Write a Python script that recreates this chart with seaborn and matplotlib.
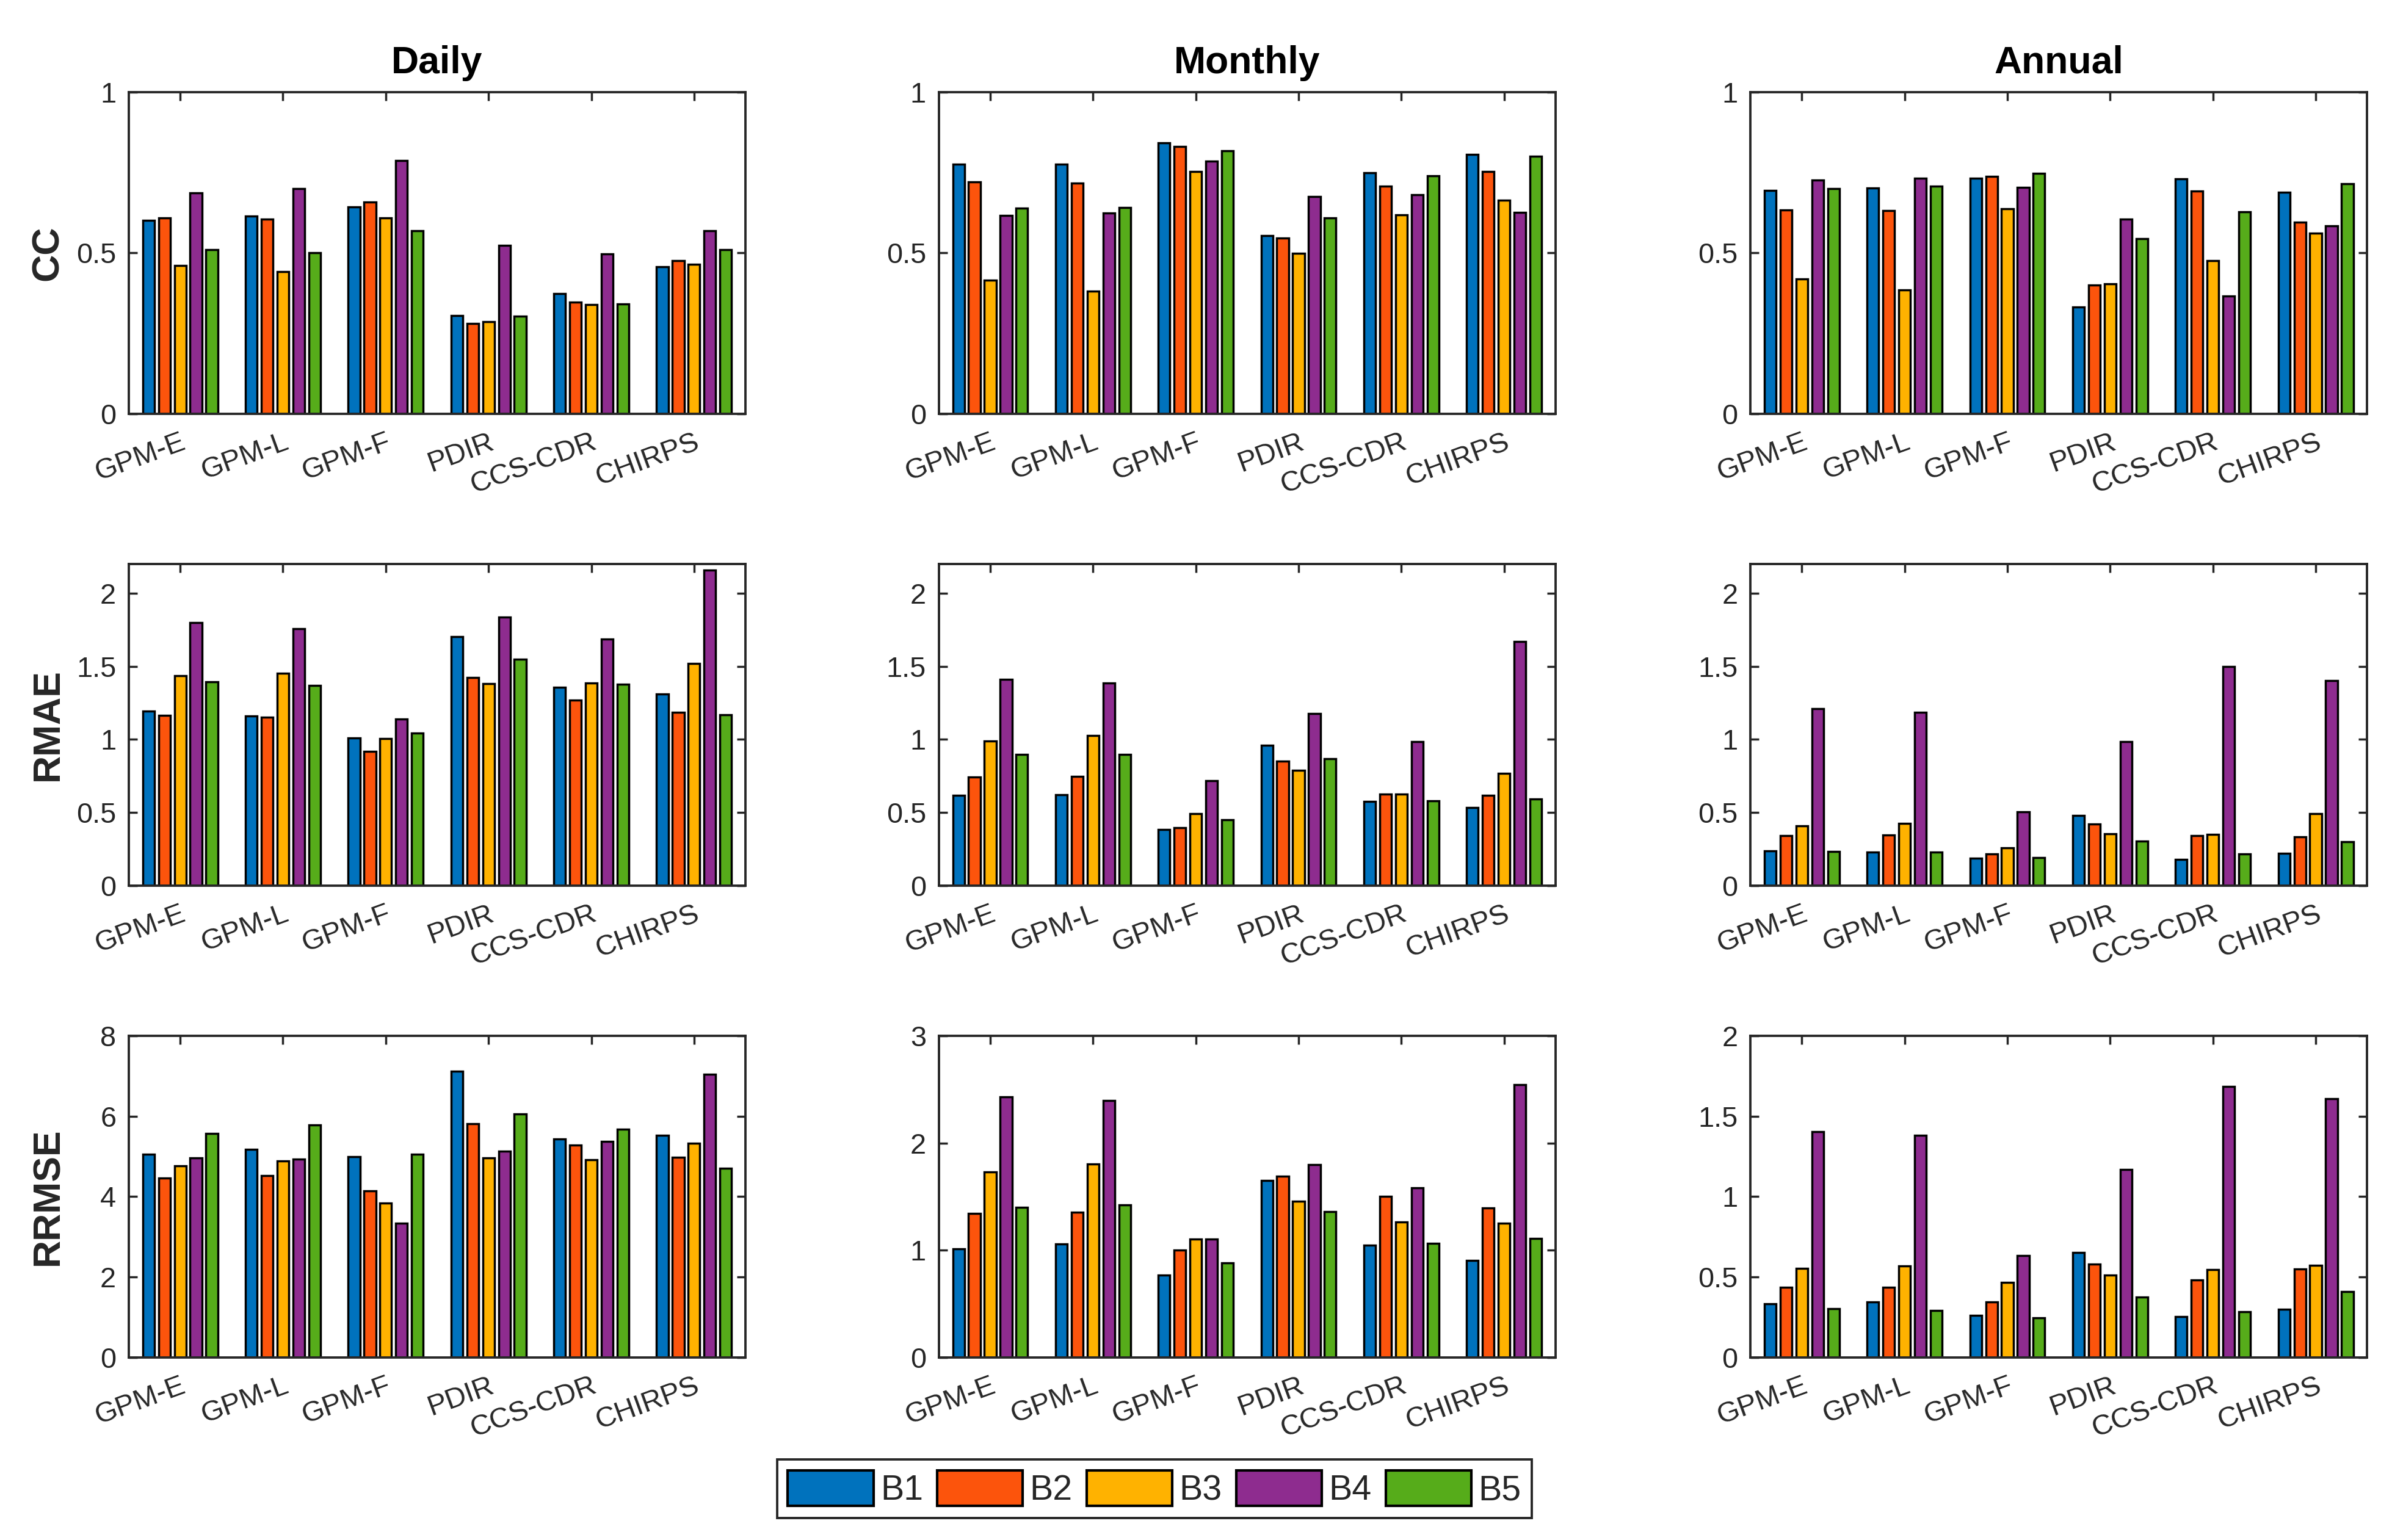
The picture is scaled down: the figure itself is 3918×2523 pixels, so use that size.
import pandas as pd
import matplotlib
matplotlib.use('Agg')
import matplotlib.pyplot as plt
import seaborn as sns
from matplotlib import font_manager
from matplotlib.patches import Patch

# ---------------- data ----------------
products = ['GPM-E', 'GPM-L', 'GPM-F', 'PDIR', 'CCS-CDR', 'CHIRPS']
bands = ['B1', 'B2', 'B3', 'B4', 'B5']
band_colors = ['#0072BD', '#FC540C', '#FFB200', '#8E2C8F', '#56AC1A']
scales = ['Daily', 'Monthly', 'Annual']
metrics = ['CC', 'RMAE', 'RRMSE']

# each row = one product, values for B1..B5
cc_daily = [[0.602, 0.609, 0.460, 0.686, 0.511],
            [0.614, 0.605, 0.441, 0.700, 0.501],
            [0.643, 0.659, 0.608, 0.787, 0.570],
            [0.305, 0.281, 0.286, 0.524, 0.303],
            [0.374, 0.348, 0.340, 0.497, 0.342],
            [0.457, 0.476, 0.464, 0.570, 0.511]]
cc_monthly = [[0.775, 0.721, 0.415, 0.617, 0.640],
              [0.775, 0.718, 0.381, 0.624, 0.642],
              [0.842, 0.830, 0.754, 0.786, 0.818],
              [0.553, 0.547, 0.499, 0.676, 0.609],
              [0.750, 0.708, 0.619, 0.681, 0.739],
              [0.807, 0.754, 0.664, 0.626, 0.800]]
cc_annual = [[0.694, 0.633, 0.419, 0.726, 0.700],
             [0.701, 0.631, 0.385, 0.733, 0.707],
             [0.733, 0.737, 0.638, 0.703, 0.747],
             [0.332, 0.400, 0.404, 0.606, 0.545],
             [0.730, 0.692, 0.476, 0.367, 0.627],
             [0.688, 0.595, 0.562, 0.585, 0.716]]
rmae_daily = [[1.193, 1.164, 1.437, 1.799, 1.395],
              [1.159, 1.152, 1.454, 1.757, 1.370],
              [1.008, 0.918, 1.005, 1.139, 1.043],
              [1.704, 1.423, 1.382, 1.837, 1.548],
              [1.356, 1.269, 1.384, 1.686, 1.376],
              [1.311, 1.187, 1.520, 2.156, 1.167]]
rmae_monthly = [[0.616, 0.741, 0.989, 1.410, 0.899],
                [0.621, 0.749, 1.026, 1.384, 0.899],
                [0.382, 0.398, 0.491, 0.717, 0.449],
                [0.958, 0.853, 0.788, 1.176, 0.867],
                [0.574, 0.627, 0.627, 0.983, 0.579],
                [0.533, 0.616, 0.769, 1.669, 0.593]]
rmae_annual = [[0.238, 0.342, 0.409, 1.209, 0.234],
               [0.229, 0.347, 0.426, 1.184, 0.229],
               [0.187, 0.217, 0.258, 0.506, 0.192],
               [0.480, 0.423, 0.354, 0.986, 0.305],
               [0.180, 0.342, 0.351, 1.497, 0.217],
               [0.221, 0.333, 0.494, 1.404, 0.300]]
rrmse_daily = [[5.06, 4.46, 4.76, 4.97, 5.57],
               [5.18, 4.52, 4.89, 4.94, 5.79],
               [5.00, 4.14, 3.84, 3.34, 5.06],
               [7.12, 5.82, 4.97, 5.13, 6.05],
               [5.44, 5.29, 4.92, 5.38, 5.68],
               [5.53, 4.98, 5.33, 7.05, 4.70]]
rrmse_monthly = [[1.015, 1.343, 1.731, 2.432, 1.400],
                 [1.059, 1.356, 1.802, 2.394, 1.425],
                 [0.768, 1.000, 1.105, 1.105, 0.880],
                 [1.653, 1.691, 1.457, 1.800, 1.362],
                 [1.048, 1.503, 1.263, 1.581, 1.063],
                 [0.905, 1.394, 1.253, 2.543, 1.112]]
rrmse_annual = [[0.335, 0.436, 0.553, 1.404, 0.302],
                [0.344, 0.436, 0.571, 1.380, 0.291],
                [0.262, 0.345, 0.467, 0.634, 0.248],
                [0.653, 0.581, 0.512, 1.168, 0.376],
                [0.255, 0.483, 0.547, 1.684, 0.285],
                [0.300, 0.550, 0.574, 1.610, 0.410]]

panels = [[cc_daily, cc_monthly, cc_annual],
          [rmae_daily, rmae_monthly, rmae_annual],
          [rrmse_daily, rrmse_monthly, rrmse_annual]]

# y axis limits / ticks for each panel
ylims = [[1, 1, 1], [2.2, 2.2, 2.2], [8, 3, 2]]
yticks = [[[0, 0.5, 1]] * 3,
          [[0, 0.5, 1, 1.5, 2]] * 3,
          [[0, 2, 4, 6, 8], [0, 1, 2, 3], [0, 0.5, 1, 1.5, 2]]]

# ---------------- style ----------------
sns.set_theme(style='ticks')
names = {f.name for f in font_manager.fontManager.ttflist}
fam = 'Liberation Sans Narrow' if 'Liberation Sans Narrow' in names else 'Liberation Sans'
plt.rcParams['font.family'] = [fam, 'DejaVu Sans']
dark = '#262626'

fig = plt.figure(figsize=(15.672, 10.092), dpi=250)

lefts = [0.05385, 0.3925, 0.7318]
bottoms = [0.7313, 0.4249, 0.1185]
w, h = 0.2578, 0.2089

for r in range(3):
    for c in range(3):
        ax = fig.add_axes([lefts[c], bottoms[r], w, h])
        vals = panels[r][c]
        rows = []
        for i, p in enumerate(products):
            for j, b in enumerate(bands):
                rows.append({'product': p, 'band': b, 'value': vals[i][j]})
        df = pd.DataFrame(rows)
        sns.barplot(data=df, x='product', y='value', hue='band', order=products,
                    hue_order=bands, palette=band_colors, saturation=1,
                    width=0.77, gap=0.26, edgecolor='black', linewidth=1.0,
                    errorbar=None, legend=False, ax=ax)
        ax.set_xlim(-0.5, 5.5)
        ax.set_ylim(0, ylims[r][c])
        ax.set_yticks(yticks[r][c])
        ax.set_yticklabels([('%g' % t) for t in yticks[r][c]])
        ax.set_xticks(range(len(products)))
        ax.set_xticklabels(products, rotation=20, ha='right', rotation_mode='anchor')
        ax.tick_params(direction='in', length=4, width=1.0, color=dark,
                       labelcolor=dark, labelsize=13.5, top=True, right=True)
        ax.tick_params(axis='x', pad=7)
        ax.tick_params(axis='y', pad=6)
        for s in ax.spines.values():
            s.set_visible(True)
            s.set_color(dark)
            s.set_linewidth(1.1)
        ax.set_xlabel('')
        if c == 0:
            ax.set_ylabel(metrics[r], fontsize=18, fontweight='bold', color=dark)
            ax.yaxis.set_label_coords(-0.102, 0.5)
        else:
            ax.set_ylabel('')
        if r == 0:
            ax.set_title(scales[c], fontsize=18, fontweight='bold', color='black', pad=9)

# legend below the grid
handles = [Patch(facecolor=band_colors[k], edgecolor='black', linewidth=1.2, label=bands[k])
           for k in range(len(bands))]
leg = fig.legend(handles=handles, loc='center', bbox_to_anchor=(0.4826, 0.0333), ncol=5,
                 fontsize=16.5, frameon=True, fancybox=False, framealpha=1,
                 edgecolor=dark, handlelength=2.45, handleheight=1.2,
                 handletextpad=0.2, columnspacing=0.4, borderpad=0.3,
                 borderaxespad=0)
leg.get_frame().set_linewidth(1.1)

fig.savefig('out.png', dpi=250)
